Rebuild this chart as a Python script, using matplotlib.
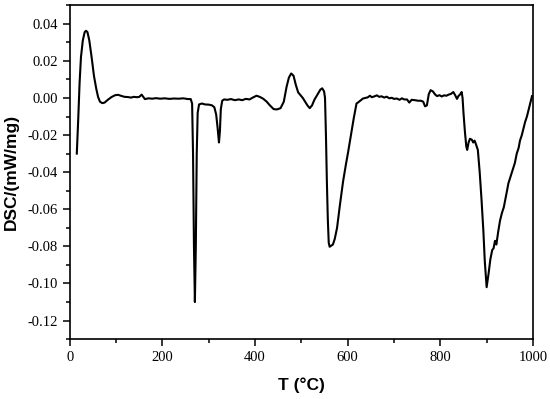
import matplotlib
matplotlib.use("Agg")
import matplotlib.pyplot as plt
from matplotlib.ticker import MultipleLocator, FormatStrFormatter

temperature = [15, 18, 21, 24, 28, 32, 35, 38, 42, 47, 52, 57, 61, 65, 70, 75, 82, 90, 98, 104,
               110, 118, 125, 132, 138, 145, 150, 155, 158, 162, 170, 178, 186, 195, 205, 215,
               225, 235, 245, 255, 261, 264, 266, 268, 270, 272, 274, 276, 279, 285, 292, 300,
               307, 312, 316, 319, 322, 324, 326, 329, 333, 340, 348, 356, 365, 372, 380, 388,
               395, 403, 410, 418, 425, 432, 440, 447, 455, 462, 468, 473, 478, 483, 488, 493,
               498, 503, 508, 513, 518, 523, 528, 535, 541, 545, 549, 551, 553, 555, 557, 559,
               561, 565, 568, 572, 577, 583, 590, 596, 601, 607, 613, 619, 622, 627, 633, 638,
               643, 648, 652, 657, 663, 668, 673, 679, 684, 690, 695, 700, 706, 712, 717, 722,
               728, 733, 738, 745, 752, 758, 763, 767, 771, 775, 779, 784, 789, 793, 798, 803,
               808, 813, 818, 823, 828, 832, 836, 839, 843, 846, 848, 850, 853, 856, 858, 861,
               864, 868, 871, 874, 877, 881, 885, 889, 893, 896, 900, 904, 908, 912, 915, 918,
               921, 925, 929, 933, 937, 941, 944, 947, 952, 957, 961, 965, 969, 972, 976, 980,
               983, 987, 991, 995, 998]

dsc = [-0.030, -0.012, 0.008, 0.022, 0.031, 0.0355, 0.0362, 0.0355, 0.031, 0.022, 0.012, 0.005,
       0.0005, -0.002, -0.0028, -0.0025, -0.001, 0.0005, 0.0015, 0.0017,
       0.0012, 0.0006, 0.0005, 0.0002, 0.0006, 0.0004, 0.0006, 0.0018, 0.0008, -0.0006, -0.0002,
       -0.0004, -0.0001, -0.0004, -0.0002, -0.0005,
       -0.0003, -0.0004, -0.0002, -0.0006, -0.0006, -0.003, -0.03, -0.08, -0.110, -0.08, -0.03,
       -0.008, -0.0035, -0.003, -0.0035, -0.0036,
       -0.004, -0.005, -0.009, -0.016, -0.024, -0.018, -0.006, -0.0015, -0.0008, -0.001, -0.0006,
       -0.0012, -0.0008, -0.0012, -0.0005, -0.0008,
       0.0002, 0.0012, 0.0006, -0.0005, -0.002, -0.004, -0.006, -0.0062, -0.0055, -0.002, 0.006,
       0.011, 0.0132, 0.012, 0.007, 0.003,
       0.0015, 0.000, -0.002, -0.004, -0.0055, -0.004, -0.001, 0.002, 0.0045, 0.0052, 0.0035,
       0.000, -0.02, -0.045, -0.065, -0.078,
       -0.0802, -0.0795, -0.079, -0.076, -0.070, -0.058, -0.045, -0.036, -0.029, -0.020, -0.011,
       -0.003, -0.0025, -0.0015, -0.0003, 0.000,
       0.0003, 0.0012, 0.0004, 0.0008, 0.0014, 0.0006, 0.0009, 0.0002, 0.0007, -0.0002, 0.0001,
       -0.0005, -0.0003, -0.0010, -0.0002, -0.0008,
       -0.0008, -0.0025, -0.0010, -0.0012, -0.0015, -0.0015, -0.0020, -0.0045, -0.0040, 0.002,
       0.0042, 0.0035, 0.0018, 0.0010, 0.0015, 0.0008,
       0.0014, 0.0012, 0.0018, 0.0022, 0.0032, 0.0015, -0.0005, 0.001, 0.002, 0.0032, 0.000,
       -0.008, -0.018, -0.026, -0.028, -0.024,
       -0.022, -0.0225, -0.024, -0.023, -0.025, -0.028, -0.040, -0.055, -0.072, -0.088, -0.102,
       -0.095, -0.087, -0.082, -0.081, -0.077,
       -0.079, -0.072, -0.066, -0.062, -0.059, -0.054, -0.050, -0.046, -0.042, -0.038, -0.035,
       -0.030, -0.027, -0.023, -0.020, -0.016,
       -0.013, -0.010, -0.006, -0.002, 0.001]

x_label = "T (°C)"
y_label = "DSC/(mW/mg)"

fig = plt.figure(figsize=(5.5, 3.99), dpi=100)
ax = fig.add_axes([0.127, 0.150, 0.842, 0.837])

ax.plot(temperature, dsc, color="black", linewidth=1.5)

ax.set_xlim(0, 1000)
ax.set_ylim(-0.13, 0.05)
ax.xaxis.set_major_locator(MultipleLocator(200))
ax.xaxis.set_minor_locator(MultipleLocator(100))
ax.yaxis.set_major_locator(MultipleLocator(0.02))
ax.yaxis.set_minor_locator(MultipleLocator(0.01))
ax.yaxis.set_major_formatter(FormatStrFormatter("%.2f"))

for s in ax.spines.values():
    s.set_linewidth(1.2)

ax.tick_params(axis="both", which="major", direction="out", length=5, width=1.1,
               labelsize=10.5)
ax.tick_params(axis="both", which="minor", direction="out", length=3.2, width=1.1)
ax.tick_params(top=False, right=False, which="both")
for lbl in ax.get_xticklabels() + ax.get_yticklabels():
    lbl.set_fontfamily("Liberation Serif")

ax.set_xlabel(x_label, fontfamily="Liberation Sans", fontweight="bold", fontsize=12.5, labelpad=10)
ax.set_ylabel(y_label, fontfamily="Liberation Sans", fontweight="bold", fontsize=12.5, labelpad=6)

fig.savefig("out.png", dpi=100)
